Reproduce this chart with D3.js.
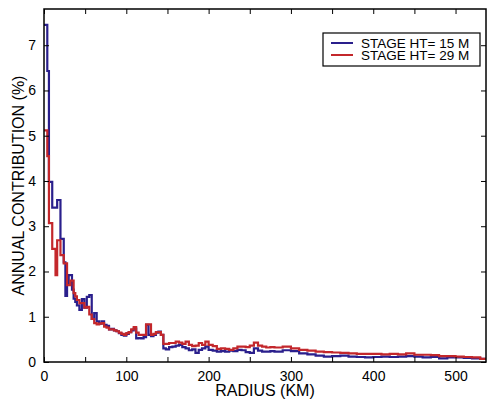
<!DOCTYPE html>
<html>
<head>
<meta charset="utf-8">
<script src="https://cdn.jsdelivr.net/npm/d3@7"></script>
<style>
  body { margin: 0; background: #fff; }
  svg text { font-family: "Liberation Sans", Arial, Helvetica, sans-serif; fill: #000; }
</style>
</head>
<body>
<div id="area"></div>
<script>
// bin start radius (km), shared by both curves
var radius = [0,2,4,6,8,10,12,14,16,18,20,22,24,26,28,30,32,34,36,38,
  40,43,46,49,52,55,58,61,64,67,70,73,76,79,82,85,88,91,94,97,
  100,103,106,109,112,115,118,121,124,127,130,133,136,139,142,145,148,152,156,160,
  164,168,172,176,180,184,188,192,196,200,205,210,215,220,225,230,235,240,245,250,
  255,260,265,270,275,280,290,300,310,320,330,340,350,360,370,380,390,400,410,420,
  430,440,450,460,470,480,490,500,510,520,530];

var stage15 = [7.45,7.45,6.43,3.98,3.98,3.41,3.41,3.41,3.58,3.58,2.72,2.72,2.2,1.46,1.75,1.92,1.92,1.6,1.4,1.33,
  1.25,1.15,1.39,1.2,1.44,1.48,0.95,1.08,0.9,0.85,0.9,0.82,0.8,0.72,0.73,0.7,0.68,0.64,0.6,0.58,
  0.62,0.66,0.7,0.74,0.52,0.53,0.52,0.55,0.82,0.6,0.57,0.6,0.65,0.67,0.6,0.3,0.28,0.33,0.34,0.36,
  0.38,0.33,0.3,0.26,0.28,0.2,0.27,0.3,0.34,0.27,0.25,0.23,0.24,0.23,0.25,0.24,0.27,0.26,0.22,0.2,
  0.3,0.25,0.23,0.23,0.24,0.23,0.26,0.24,0.19,0.17,0.14,0.12,0.13,0.14,0.12,0.11,0.1,0.11,0.12,0.11,
  0.12,0.13,0.12,0.1,0.11,0.08,0.1,0.1,0.09,0.08,0.07];

var stage29 = [5.12,5.12,4.55,3.07,3.07,2.5,2.5,1.92,2.69,2.69,2.36,2.36,2.18,2.18,1.7,1.7,1.8,1.8,1.52,1.45,
  1.37,1.3,1.3,1.2,1.22,1.05,0.95,0.86,0.83,0.85,0.86,0.78,0.76,0.72,0.72,0.7,0.68,0.65,0.62,0.6,
  0.64,0.66,0.72,0.77,0.65,0.6,0.6,0.6,0.83,0.83,0.6,0.62,0.66,0.66,0.6,0.4,0.4,0.42,0.42,0.45,
  0.43,0.4,0.45,0.38,0.35,0.36,0.42,0.38,0.45,0.38,0.35,0.29,0.3,0.29,0.27,0.3,0.34,0.34,0.33,0.36,
  0.43,0.36,0.34,0.32,0.33,0.32,0.34,0.3,0.27,0.25,0.23,0.22,0.21,0.2,0.19,0.18,0.18,0.18,0.17,0.18,
  0.17,0.19,0.16,0.16,0.15,0.13,0.13,0.12,0.11,0.1,0.07];

var seriesNames = ['STAGE HT= 15 M', 'STAGE HT= 29 M'];
var seriesColors = ['#2a1f8c', '#c3272b'];
var xTicks = [0,50,100,150,200,250,300,350,400,450,500];
var xTickLabels = ['0','','100','','200','','300','','400','','500'];
var yTicks = [0,1,2,3,4,5,6,7];
var xMax = 537, yMax = 7.8;

var width = 487, height = 401;
// plot box (don't call it "top", that's window.top)
var mLeft = 44, mRight = 486, mTop = 9, mBottom = 362;

var svg = d3.select('#area').append('svg')
    .attr('width', width).attr('height', height);

var x = d3.scaleLinear().domain([0, xMax]).range([mLeft, mRight]);
var y = d3.scaleLinear().domain([0, yMax]).range([mBottom, mTop]);

var line = d3.line()
    .curve(d3.curveStepAfter)
    .x(function(d) { return x(d[0]); })
    .y(function(d) { return y(d[1]); });

[stage15, stage29].forEach(function(vals, i) {
  var pts = radius.map(function(r, k) { return [r, vals[k]]; });
  pts.push([xMax, vals[vals.length - 1]]);
  svg.append('path')
    .datum(pts)
    .attr('d', line)
    .attr('fill', 'none')
    .attr('stroke', seriesColors[i])
    .attr('stroke-width', 2.2);
});

// axes, ticks pointing inward like the original
var tickLen = 5;
var xAxisB = d3.axisBottom(x).tickValues(xTicks).tickSizeInner(-tickLen).tickSizeOuter(0)
    .tickFormat(function(d, i) { return xTickLabels[i]; });
var xAxisT = d3.axisTop(x).tickValues(xTicks).tickSizeInner(-tickLen).tickSizeOuter(0).tickFormat('');
var yAxisL = d3.axisLeft(y).tickValues(yTicks).tickSizeInner(-tickLen).tickSizeOuter(0).tickFormat(d3.format('d'));
var yAxisR = d3.axisRight(y).tickValues(yTicks).tickSizeInner(-tickLen).tickSizeOuter(0).tickFormat('');

function styleAxis(g) {
  g.select('.domain').remove();
  g.selectAll('.tick line').attr('stroke', '#000').attr('stroke-width', 1);
  g.selectAll('.tick text').attr('font-size', 14).style('font-family', '"Liberation Sans", Arial, sans-serif');
}

svg.append('g').attr('transform', 'translate(0,' + mBottom + ')').call(xAxisB).call(styleAxis)
  .selectAll('.tick text').attr('y', 8).attr('dy', '0.75em');
svg.append('g').attr('transform', 'translate(0,' + mTop + ')').call(xAxisT).call(styleAxis);
svg.append('g').attr('transform', 'translate(' + mLeft + ',0)').call(yAxisL).call(styleAxis)
  .selectAll('.tick text').attr('x', -8);
svg.append('g').attr('transform', 'translate(' + mRight + ',0)').call(yAxisR).call(styleAxis);

// frame
svg.append('rect')
  .attr('x', mLeft).attr('y', mTop)
  .attr('width', mRight - mLeft).attr('height', mBottom - mTop)
  .attr('fill', 'none').attr('stroke', '#000').attr('stroke-width', 1.5);

// axis titles
svg.append('text')
  .attr('x', (mLeft + mRight) / 2).attr('y', 396)
  .attr('text-anchor', 'middle').attr('font-size', 16)
  .text('RADIUS (KM)');
svg.append('text')
  .attr('transform', 'translate(24,' + ((mTop + mBottom) / 2) + ') rotate(-90)')
  .attr('text-anchor', 'middle').attr('font-size', 16)
  .text('ANNUAL CONTRIBUTION (%)');

// legend
var legend = svg.append('g').attr('transform', 'translate(323,33)');
legend.append('rect')
  .attr('width', 157).attr('height', 33)
  .attr('fill', '#fff').attr('stroke', '#000').attr('stroke-width', 1.2);
seriesNames.forEach(function(name, i) {
  var ly = 10 + i * 12;
  legend.append('line')
    .attr('x1', 8).attr('x2', 30).attr('y1', ly).attr('y2', ly)
    .attr('stroke', seriesColors[i]).attr('stroke-width', 2);
  legend.append('text')
    .attr('x', 38).attr('y', ly).attr('dy', '0.36em')
    .attr('font-size', 13.5)
    .text(name);
});
</script>
</body>
</html>
